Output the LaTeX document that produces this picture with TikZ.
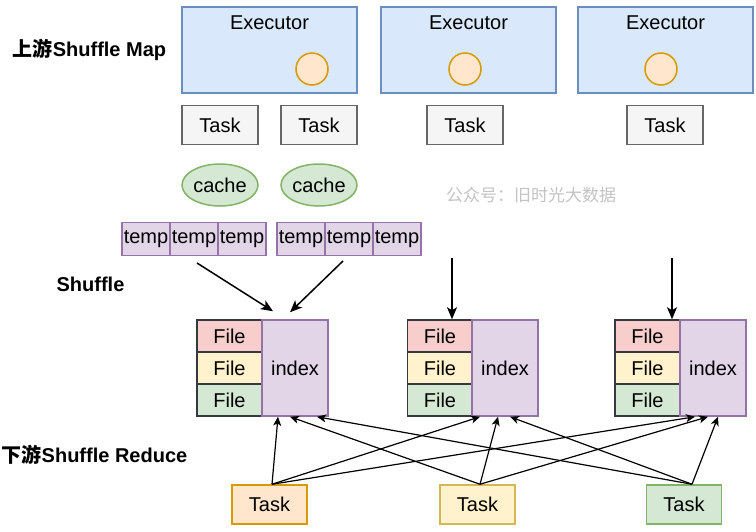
\documentclass[tikz,border=0pt]{standalone}
\usepackage{fontspec}
\setmainfont{Liberation Sans}
\newfontfamily\cjk{Noto Sans CJK SC}
\usetikzlibrary{shapes.geometric,arrows.meta}
\definecolor{exfill}{HTML}{DAE8FC}
\definecolor{exline}{HTML}{6C8EBF}
\definecolor{orfill}{HTML}{FFE6CC}
\definecolor{orline}{HTML}{D79B00}
\definecolor{grfill}{HTML}{F5F5F5}
\definecolor{grline}{HTML}{666666}
\definecolor{gnfill}{HTML}{D5E8D4}
\definecolor{gnline}{HTML}{82B366}
\definecolor{pufill}{HTML}{E1D5E7}
\definecolor{puline}{HTML}{9673A6}
\definecolor{rdfill}{HTML}{F8CECC}
\definecolor{yefill}{HTML}{FFF2CC}
\definecolor{yeline}{HTML}{D6B656}
\definecolor{fileline}{HTML}{36393D}
\definecolor{markgray}{HTML}{C4C4C4}
\tikzstyle{executor}=[rectangle,draw=exline,fill=exfill,line width=0.75pt,minimum width=87.5pt,minimum height=43pt,label={[anchor=north,yshift=-1pt]north:Executor}]
\tikzstyle{slot}=[circle,draw=orline,fill=orfill,line width=0.75pt,minimum size=16pt,inner sep=0pt]
\tikzstyle{maptask}=[rectangle,draw=grline,fill=grfill,line width=0.75pt,minimum width=38pt,minimum height=19.5pt]
\tikzstyle{cachenode}=[ellipse,draw=gnline,fill=gnfill,line width=0.75pt,minimum width=38pt,minimum height=21pt,inner sep=0pt]
\tikzstyle{tempcell}=[rectangle,draw=puline,fill=pufill,line width=0.75pt,minimum width=24pt,minimum height=16.5pt,inner sep=0pt]
\tikzstyle{filecell}=[rectangle,draw=fileline,line width=0.75pt,minimum width=32.5pt,minimum height=16pt,inner sep=0pt]
\tikzstyle{idxbox}=[rectangle,draw=puline,fill=pufill,line width=0.75pt,minimum width=33pt,minimum height=48pt]
\tikzstyle{redtask}=[rectangle,line width=0.75pt,minimum width=37.5pt,minimum height=19.5pt]
\tikzstyle{caption}=[font=\bfseries]
\tikzstyle{flow}=[-{Stealth[length=6pt,width=5pt,inset=1.5pt]},line width=0.75pt]
\tikzstyle{fetch}=[-{Stealth[length=4.5pt,width=4pt,inset=1.2pt]},line width=0.6pt]

\begin{document}
\begin{tikzpicture}[x=0.5pt,y=-0.5pt]
			\path[use as bounding box,fill=white] (0,0) rectangle (756,531);
			% % % % % % % % % % % % % % % % % % % % % % % % % % % % %
			\node [caption] (l1) at (89.5,50) {{\cjk 上游}Shuffle Map};
			\node [caption] (l2) at (90.5,284) {Shuffle};
			\node [caption] (l3) at (94.5,455) {{\cjk 下游}Shuffle Reduce};
			\node [text=markgray,font=\cjk\fontsize{8.5pt}{10pt}\selectfont] (wm) at (531,195) {公众号：旧时光大数据};
			%*********************
			\node [executor] (e1) at (269.5,50) {};
			\node [executor] (e2) at (468.5,50) {};
			\node [executor] (e3) at (665.5,50) {};
			\node [slot] (c1) at (312,69) {};
			\node [slot] (c2) at (465,69) {};
			\node [slot] (c3) at (661,69) {};
			%*********************
			\node [maptask] (t1) at (220,125) {Task};
			\node [maptask] (t2) at (319,125) {Task};
			\node [maptask] (t3) at (465,125) {Task};
			\node [maptask] (t4) at (665,125) {Task};
			\node [cachenode] (k1) at (220,185) {cache};
			\node [cachenode] (k2) at (319,185) {cache};
			%*********************
			\node [tempcell] (m1) at (146,239) {temp};
			\node [tempcell] (m2) at (194,239) {temp};
			\node [tempcell] (m3) at (242,239) {temp};
			\node [tempcell] (m4) at (301,239) {temp};
			\node [tempcell] (m5) at (349,239) {temp};
			\node [tempcell] (m6) at (397,239) {temp};
			\coordinate (p1) at (197,263);
			\coordinate (p2) at (343,261);
			\coordinate (p3) at (452,258);
			\coordinate (p4) at (672,258);
			% % % % % % % % % % % % % % % % %
			\node [filecell,fill=rdfill] (f11) at (229.5,336) {File};
			\node [filecell,fill=yefill] (f12) at (229.5,368) {File};
			\node [filecell,fill=gnfill] (f13) at (229.5,400) {File};
			\node [idxbox] (i1) at (295,368) {index};
			\node [filecell,fill=rdfill] (f21) at (440,336) {File};
			\node [filecell,fill=yefill] (f22) at (440,368) {File};
			\node [filecell,fill=gnfill] (f23) at (440,400) {File};
			\node [idxbox] (i2) at (505,368) {index};
			\node [filecell,fill=rdfill] (f31) at (647.5,336) {File};
			\node [filecell,fill=yefill] (f32) at (647.5,368) {File};
			\node [filecell,fill=gnfill] (f33) at (647.5,400) {File};
			\node [idxbox] (i3) at (713,368) {index};
			%*********************
			\node [redtask,draw=orline,fill=orfill] (r1) at (269.5,504.5) {Task};
			\node [redtask,draw=yeline,fill=yefill] (r2) at (477.5,504.5) {Task};
			\node [redtask,draw=gnline,fill=gnfill] (r3) at (684,504.5) {Task};
			\path
			% % % % % % % % % % % % % % % % %
			(p1) edge [flow] ([xshift=-11pt,yshift=4pt]i1.north)
			(p2) edge [flow] ([xshift=-2.5pt,yshift=3.5pt]i1.north)
			(p3) edge [flow] ([xshift=6pt]f21.north)
			(p4) edge [flow] ([xshift=12.25pt]f31.north)
			%**************
			([xshift=1.25pt]r1.north) edge [fetch] ([xshift=-8.5pt]i1.south)
			([xshift=1.25pt]r1.north) edge [fetch] ([xshift=-12.5pt]i2.south)
			([xshift=1.25pt]r1.north) edge [fetch] ([xshift=-9pt]i3.south)
			([xshift=1.25pt]r2.north) edge [fetch] ([xshift=-2.5pt]i1.south)
			([xshift=1.25pt]r2.north) edge [fetch] ([xshift=-3.5pt]i2.south)
			([xshift=1.25pt]r2.north) edge [fetch] ([xshift=-2.5pt]i3.south)
			([xshift=4pt]r3.north) edge [fetch] ([xshift=11pt]i1.south)
			([xshift=4pt]r3.north) edge [fetch] ([xshift=2.5pt]i2.south)
			([xshift=4pt]r3.north) edge [fetch] ([xshift=2.5pt]i3.south)
			;
\end{tikzpicture}
\end{document}
